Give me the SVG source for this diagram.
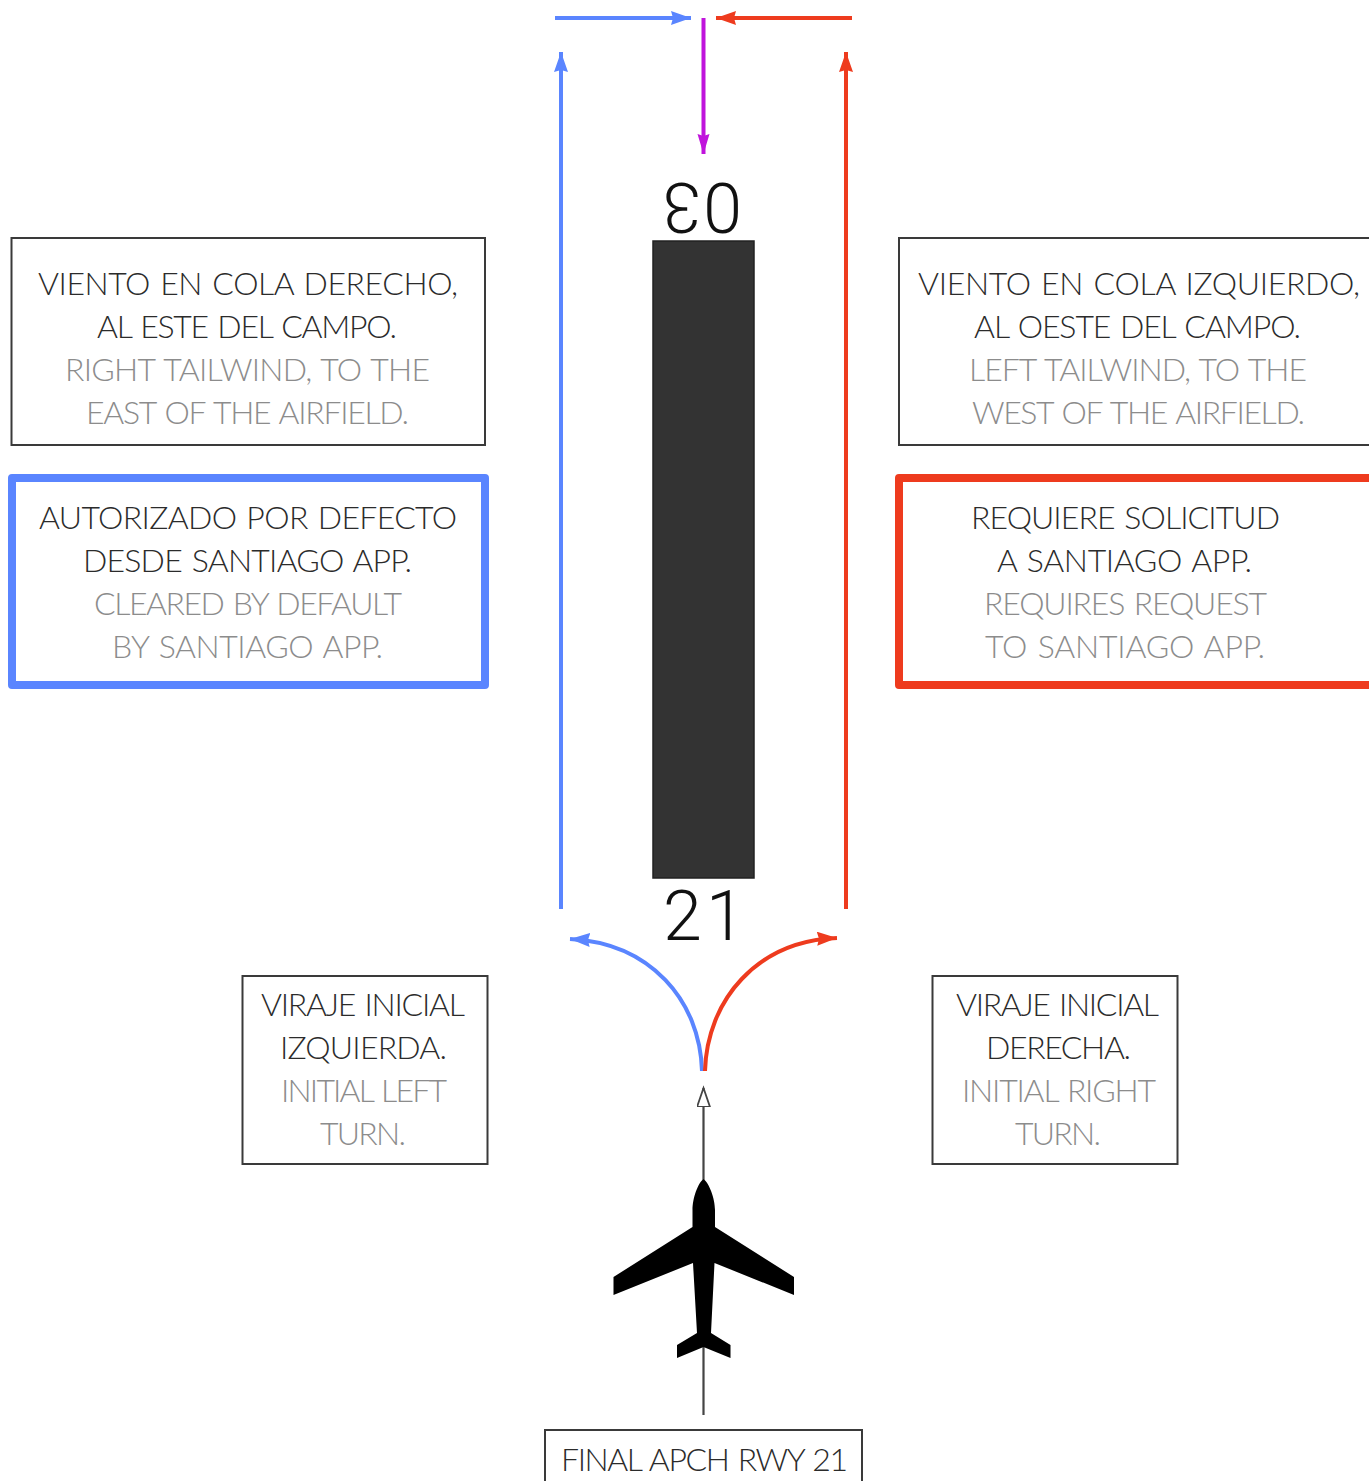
<svg xmlns="http://www.w3.org/2000/svg" width="1369" height="1481" viewBox="0 0 1369 1481">
<style>
text{font-family:"Lato","Liberation Sans",sans-serif;font-weight:300;font-size:32px;word-spacing:2px;}
.es{fill:#2b2b2b}
.en{fill:#8c8c8c}
.box{fill:#fff;stroke:#3a3a3a;stroke-width:2}
.blue{fill:#fff;stroke:#5a85ff;stroke-width:8;stroke-linejoin:round}
.red{fill:#fff;stroke:#ee3b1e;stroke-width:8;stroke-linejoin:round}
.rw{font-family:"Roboto","Liberation Sans",sans-serif;font-size:70px;fill:#111}
.c{fill:none;stroke-width:4}
.cb{stroke:#5a85ff}.cr{stroke:#ee3b1e}.cp{stroke:#c014dc}
</style>
<defs>
<marker id="hb" markerUnits="userSpaceOnUse" markerWidth="22" markerHeight="16" refX="20" refY="7" orient="auto"><path d="M0 0L20 7L0 14L2 7z" fill="#5a85ff"/></marker>
<marker id="hr" markerUnits="userSpaceOnUse" markerWidth="22" markerHeight="16" refX="20" refY="7" orient="auto"><path d="M0 0L20 7L0 14L2 7z" fill="#ee3b1e"/></marker>
<marker id="hp" markerUnits="userSpaceOnUse" markerWidth="22" markerHeight="16" refX="20" refY="7" orient="auto"><path d="M0 0L20 6L0 12L2 6z" fill="#c014dc" transform="translate(0 1)"/></marker>
<marker id="ho" markerUnits="userSpaceOnUse" markerWidth="22" markerHeight="16" refX="19" refY="7" orient="auto"><path d="M0 0.5L19 7L0 13.500L0 7z" fill="#fff" stroke="#444" stroke-width="1.800"/></marker>
</defs>
<rect width="1369" height="1481" fill="#fff"/>
<g id="connectors">
<path class="c cb" d="M555 18H691" marker-end="url(#hb)"/>
<path class="c cr" d="M852 18H716" marker-end="url(#hr)"/>
<path class="c cp" d="M703.500 18V154" marker-end="url(#hp)"/>
<path class="c cb" d="M561 909V52" marker-end="url(#hb)"/>
<path class="c cr" d="M846 909V52" marker-end="url(#hr)"/>
<path class="c cb" d="M702 1071C700 1000 650 943 570 939" marker-end="url(#hb)"/>
<path class="c cr" d="M705 1071C707 1000 757 941 837 938" marker-end="url(#hr)"/>
<path d="M703.500 1415V1088" fill="none" stroke="#444" stroke-width="2.200" marker-end="url(#ho)"/>
</g>
<g id="runway">
<rect x="653" y="241" width="101" height="637" fill="#333" stroke="#222" stroke-width="1.500"/>
<text class="rw" transform="rotate(180 703 208)" x="664 705" y="233">03</text>
<text class="rw" x="663 706" y="940">21</text>
</g>
<g id="box-right-tailwind">
<rect class="box" x="11.500" y="238" width="473.500" height="207"/>
<text class="es" x="38" y="295" textLength="420">VIENTO EN COLA DERECHO,</text>
<text class="es" x="97" y="338" textLength="300">AL ESTE DEL CAMPO.</text>
<text class="en" x="65" y="381" textLength="365">RIGHT TAILWIND, TO THE</text>
<text class="en" x="86" y="424" textLength="323">EAST OF THE AIRFIELD.</text>
</g>
<g id="box-cleared">
<rect class="blue" x="12" y="478" width="473" height="207"/>
<text class="es" x="39" y="529" textLength="418">AUTORIZADO POR DEFECTO</text>
<text class="es" x="83" y="572" textLength="329">DESDE SANTIAGO APP.</text>
<text class="en" x="94" y="615" textLength="308">CLEARED BY DEFAULT</text>
<text class="en" x="112" y="658" textLength="271">BY SANTIAGO APP.</text>
</g>
<g id="box-left-tailwind">
<rect class="box" x="899" y="238" width="480" height="207"/>
<text class="es" x="918" y="295" textLength="442">VIENTO EN COLA IZQUIERDO,</text>
<text class="es" x="974" y="338" textLength="327">AL OESTE DEL CAMPO.</text>
<text class="en" x="969" y="381" textLength="338">LEFT TAILWIND, TO THE</text>
<text class="en" x="972" y="424" textLength="333">WEST OF THE AIRFIELD.</text>
</g>
<g id="box-request">
<rect class="red" x="899" y="478" width="480" height="207"/>
<text class="es" x="971" y="529" textLength="309">REQUIERE SOLICITUD</text>
<text class="es" x="997" y="572" textLength="255">A SANTIAGO APP.</text>
<text class="en" x="984" y="615" textLength="283">REQUIRES REQUEST</text>
<text class="en" x="985" y="658" textLength="280">TO SANTIAGO APP.</text>
</g>
<g id="box-initial-left">
<rect class="box" x="242.500" y="976" width="245" height="188"/>
<text class="es" x="261" y="1016" textLength="204">VIRAJE INICIAL</text>
<text class="es" x="280" y="1059" textLength="167">IZQUIERDA.</text>
<text class="en" x="281" y="1102" textLength="166">INITIAL LEFT</text>
<text class="en" x="320" y="1145" textLength="86">TURN.</text>
</g>
<g id="box-initial-right">
<rect class="box" x="932.500" y="976" width="245" height="188"/>
<text class="es" x="956" y="1016" textLength="203">VIRAJE INICIAL</text>
<text class="es" x="986" y="1059" textLength="145">DERECHA.</text>
<text class="en" x="962" y="1102" textLength="194">INITIAL RIGHT</text>
<text class="en" x="1015" y="1145" textLength="86">TURN.</text>
</g>
<g id="aircraft">
<path fill="#000" d="M703.500 1179C698 1183 692.500 1198 692.500 1210V1227L613.500 1277V1295L693 1263L697 1333L677 1345V1358L703.500 1347L730.500 1358V1345L711 1333L714.500 1263L794 1295V1277L715 1227V1210C715 1198 709 1183 703.500 1179Z"/>
</g>
<g id="box-final">
<rect class="box" x="545" y="1430" width="317" height="70"/>
<text class="es" x="561" y="1471" textLength="287">FINAL APCH RWY 21</text>
</g>
</svg>
